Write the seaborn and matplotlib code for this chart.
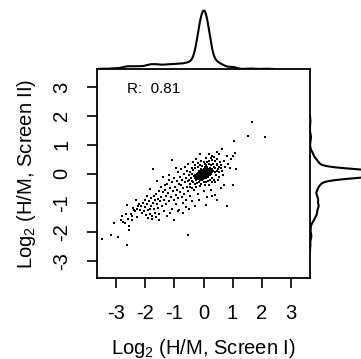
import numpy as np
import pandas as pd
import matplotlib
matplotlib.use('Agg')
import matplotlib.pyplot as plt
import seaborn as sns

# values (log2 H/M ratios, screen I vs screen II)
band_x = [-3.49, -3.19, -2.94, -2.64, -3.07, -2.80, -2.76, -2.57, -2.56, -2.48, -2.67, -2.64, -2.32, -2.43,
          -2.28, -2.15, -1.93, -1.84, -1.61, -1.74, -2.40, -2.35, -2.22, -2.18, -2.10, -2.05, -2.02, -1.98,
          -1.95, -1.90, -1.88, -1.85, -1.82, -1.80, -1.78, -1.75, -1.72, -1.70, -1.68, -1.66, -1.63, -1.60,
          -1.58, -1.55, -1.53, -1.52, -1.50, -2.60, -2.50, -2.45, -2.30, -2.25, -2.12, -2.00, -1.92, -1.86,
          -1.76, -1.64, -1.57, -2.70, -2.85]
band_y = [-2.24, -2.10, -2.19, -2.46, -1.69, -1.46, -1.67, -1.81, -1.93, -1.61, -1.38, -1.07, -0.89, -1.17,
          -1.20, -1.12, -0.77, -0.54, -0.26, 0.16, -1.25, -1.30, -1.05, -1.25, -1.00, -1.30, -1.15, -1.42,
          -1.05, -1.25, -0.95, -1.38, -1.10, -0.85, -1.45, -1.02, -0.78, -1.20, -0.92, -1.35, -0.70, -1.05,
          -0.88, -1.40, -0.60, -1.60, -0.95, -1.55, -1.40, -1.45, -1.48, -1.10, -1.35, -0.92, -1.52, -1.20,
          -1.55, -1.50, -1.18, -1.70, -1.60]

mid_x = [-1.48, -1.45, -1.42, -1.40, -1.38, -1.36, -1.35, -1.32, -1.30, -1.28, -1.25, -1.22, -1.20, -1.18,
         -1.15, -1.12, -1.10, -1.08, -1.07, -1.05, -1.03, -1.01, -1.00, -0.98, -0.96, -0.95, -0.93, -0.90,
         -0.88, -0.87, -0.85, -0.83, -0.82, -0.80, -0.78, -0.76, -0.75, -0.73, -0.72, -0.70, -0.68, -0.67,
         -0.65, -0.63, -0.62, -0.60, -0.58, -0.57, -0.55, -0.53, -0.52, -0.52, -0.50, -0.50, -0.88, -1.26,
         -1.15, -0.70, -0.60, -0.40, -0.30, -0.45, -1.33, -1.19, -0.95]
mid_y = [-0.45, -0.80, -1.10, -0.62, -0.10, -0.90, -1.30, -0.55, -0.75, -1.05, -0.35, -0.65, -0.95, -0.20,
         -0.50, -0.80, -1.20, -0.30, 0.46, -0.60, -0.90, -1.59, -0.15, -0.45, -0.72, -1.05, -0.25, -0.55,
         0.05, -0.85, -0.35, -1.25, -0.10, -0.62, -0.40, 0.15, -0.80, -0.20, -1.00, -0.50, 0.00, -0.70,
         -0.30, 0.25, -0.90, -0.15, -0.45, 0.10, -0.60, -0.25, -2.10, 0.35, -0.05, -1.20, -1.30, -1.45,
         -1.35, -1.35, -1.15, -0.95, -1.10, -0.75, -0.40, -0.05, 0.20]

core_x = [0.00, 0.05, -0.05, 0.10, -0.10, 0.02, -0.02, 0.15, -0.15, 0.08, -0.08, 0.12, -0.12, 0.20, -0.20,
          0.03, -0.03, 0.18, -0.18, 0.25, -0.25, 0.07, -0.07, 0.22, -0.22, 0.14, -0.14, 0.28, -0.28, 0.01,
          -0.01, 0.06, -0.06, 0.11, -0.11, 0.16, -0.16, 0.04, -0.04, 0.09, -0.09, 0.19, -0.19, 0.13, -0.13,
          0.24, -0.24, 0.30, -0.30, 0.00, 0.00, 0.17, -0.17, 0.21, -0.21, 0.26, -0.26, 0.05, -0.05, 0.10,
          -0.10, 0.33, -0.33, 0.02, -0.03, 0.08, -0.07, 0.13, -0.12, 0.04, 0.15, -0.15, 0.23, -0.23, 0.06,
          -0.06, 0.11, -0.09, 0.19, -0.18, 0.27, -0.27, 0.01, 0.03, -0.02, 0.07, -0.04, 0.09, 0.12, -0.08,
          0.03, -0.04, 0.07, -0.09, 0.12, -0.13, 0.01, 0.05, -0.02, 0.17, -0.16, 0.09, -0.07, 0.14, -0.11,
          0.21, -0.19, 0.02, -0.05, 0.10, -0.01, 0.04, -0.06, 0.08, -0.10, 0.13, -0.14, 0.18, -0.20, 0.06,
          -0.03, 0.11, -0.12, 0.16, -0.17, 0.00, 0.02, -0.08, 0.07, 0.23, -0.23, 0.15, -0.01, 0.04, -0.04,
          0.09, -0.09, 0.12, -0.06, 0.01, 0.19, -0.15, 0.06, -0.02, 0.10, -0.11, 0.14, -0.18, 0.03, -0.07,
          0.20, -0.21, 0.05, -0.03, 0.08, -0.05, 0.11, -0.13, 0.16, -0.08, 0.00, 0.02, -0.02, 0.06, -0.06,
          0.09, -0.10, 0.13, -0.12, 0.17, -0.16, 0.04, -0.04, 0.22, -0.25, 0.07, -0.09, 0.12, -0.14, 0.01,
          0.26, -0.22, 0.18, -0.18, 0.03, -0.01, 0.10, -0.07, 0.15, -0.05,
          0.05, -0.03, 0.08, -0.08, 0.11, -0.11, 0.14, -0.15, 0.02, -0.02, 0.18, -0.17, 0.06, -0.06, 0.21,
          -0.20, 0.09, -0.10, 0.24, -0.24, 0.00, 0.01, 0.04, -0.04, 0.07, -0.07, 0.12, -0.12, 0.16, -0.13,
          0.03, -0.01, 0.10, -0.09, 0.19, -0.19, 0.05, -0.05, 0.13, -0.16, 0.27, -0.27, 0.08, -0.03, 0.17,
          -0.14, 0.02, 0.00, 0.06, -0.06, 0.11, -0.11, 0.15, -0.15, 0.20, -0.21, 0.04, -0.04, 0.09, -0.08,
          0.13, -0.12, 0.22, -0.18, 0.01, -0.02, 0.05, -0.05, 0.10, -0.10, 0.14, -0.13, 0.18, -0.20, 0.07,
          -0.07, 0.12, -0.09, 0.16, -0.17, 0.03, -0.03, 0.08, -0.06, 0.11, -0.14, 0.25, -0.26, 0.06, -0.01,
          0.09, -0.11, 0.13, -0.08, 0.20, -0.22, 0.02, 0.00, 0.04, -0.04]
core_y = [0.02, 0.05, -0.02, 0.08, -0.05, -0.08, 0.10, 0.03, -0.10, 0.15, -0.15, -0.04, 0.06, 0.12, -0.06,
          0.18, -0.18, -0.02, 0.02, 0.10, -0.12, -0.12, 0.13, 0.20, -0.18, 0.17, -0.16, 0.05, -0.04, 0.07,
          -0.05, -0.03, 0.04, 0.01, -0.01, 0.09, -0.08, 0.12, -0.11, -0.08, 0.09, 0.06, -0.14, 0.22, -0.20,
          -0.05, 0.00, 0.15, -0.15, -0.14, 0.15, -0.10, 0.10, 0.02, -0.03, 0.18, -0.20, 0.22, -0.22, -0.16,
          0.17, 0.08, -0.07, 0.03, 0.01, 0.04, -0.06, 0.11, -0.09, -0.01, -0.07, 0.05, 0.14, -0.10, 0.10,
          -0.09, 0.13, -0.12, 0.18, -0.19, -0.01, -0.08, -0.04, 0.06, 0.05, 0.00, 0.03, 0.02, 0.06, 0.00,
          0.01, -0.03, 0.06, -0.04, 0.04, -0.08, -0.06, 0.11, 0.08, 0.11, -0.12, -0.02, 0.03, 0.14, -0.13,
          0.07, -0.02, 0.13, -0.12, 0.10, 0.00, -0.04, 0.06, 0.01, 0.02, 0.08, -0.05, 0.16, -0.16, -0.09,
          0.12, -0.07, 0.08, 0.02, -0.09, 0.05, -0.02, -0.08, 0.14, 0.13, -0.14, -0.04, -0.10, 0.07, 0.04,
          0.08, -0.10, 0.12, -0.01, 0.10, 0.04, -0.01, 0.03, -0.07, -0.05, -0.06, 0.10, -0.11, 0.16, -0.15,
          0.18, -0.07, -0.01, 0.02, 0.12, -0.05, 0.02, 0.00, 0.13, -0.18, -0.01, 0.04, -0.03, 0.08, -0.04,
          0.05, -0.11, 0.01, 0.04, 0.08, -0.15, -0.08, 0.09, 0.10, -0.17, -0.05, 0.06, 0.15, -0.10, 0.02,
          0.14, -0.11, -0.01, 0.03, -0.11, 0.14, 0.17, -0.11, 0.06, 0.01,
          0.03, -0.01, -0.03, 0.01, 0.07, -0.03, 0.03, -0.07, 0.09, -0.09, 0.12, -0.13, 0.16, -0.16, 0.01,
          0.00, -0.10, 0.10, 0.17, -0.09, 0.08, -0.08, 0.02, -0.05, 0.09, -0.07, -0.01, -0.02, 0.16, -0.14,
          0.05, 0.03, 0.13, -0.13, 0.09, -0.05, -0.06, 0.07, 0.18, -0.19, 0.09, -0.13, 0.19, -0.17, -0.03,
          0.06, 0.00, -0.03, 0.05, 0.00, 0.11, -0.09, 0.00, -0.03, 0.15, -0.18, 0.12, -0.13, 0.00, 0.05,
          0.06, -0.12, 0.05, -0.08, 0.06, 0.01, 0.08, -0.08, 0.03, -0.07, 0.12, -0.04, 0.07, -0.12, 0.02,
          -0.02, 0.09, -0.05, 0.05, -0.04, -0.05, 0.06, 0.07, -0.10, 0.04, -0.12, 0.12, -0.10, 0.11, -0.06,
          0.14, 0.01, -0.06, -0.16, 0.11, -0.15, 0.07, 0.11, -0.03, -0.02]

ring_x = [0.35, 0.40, 0.45, 0.38, 0.42, 0.50, 0.48, 0.55, 0.32, 0.25, 0.18, 0.10, 0.05, -0.05, -0.12, -0.20,
          -0.28, -0.35, -0.38, -0.42, -0.40, -0.35, -0.30, -0.22, -0.15, -0.08, 0.00, 0.08, 0.15, 0.22, 0.30,
          0.35, 0.28, 0.45, 0.52, 0.60, 0.58, 0.40, 0.30, 0.20, 0.12, 0.00, -0.10, -0.18, -0.30, -0.45, -0.48,
          -0.45, -0.38, -0.25, -0.12, 0.05, 0.18, 0.40, 0.25, 0.35, 0.45, 0.62, 0.65, 0.55, -0.35, -0.25, 0.10,
          -0.40, -0.50, -0.32, 0.50, 0.70, 0.75, 0.68]
ring_y = [0.25, 0.20, 0.30, 0.05, -0.05, 0.15, 0.35, 0.25, 0.35, 0.32, 0.35, 0.30, 0.35, 0.28, 0.30, 0.22,
          0.20, 0.12, -0.02, -0.15, -0.25, -0.30, -0.35, -0.32, -0.30, -0.35, -0.30, -0.28, -0.25, -0.20, -0.15,
          -0.22, -0.30, 0.10, 0.05, 0.20, 0.40, 0.45, 0.48, 0.45, 0.42, 0.40, 0.45, 0.38, 0.30, 0.05, -0.35,
          -0.45, -0.48, -0.45, -0.42, -0.40, -0.38, -0.30, 0.55, 0.58, 0.52, 0.30, 0.10, -0.10, 0.40, 0.50, 0.55,
          0.20, -0.20, -0.55, -0.20, 0.45, 0.25, -0.05]

outer_x = [1.67, 1.52, 2.12, 1.05, 0.64, 1.07, 1.01, 1.13, 1.02, 0.69, 0.81, 0.41, 0.46, 0.08, 0.12, 0.80,
           0.85, 0.90, 0.55, 0.45, 0.20, 0.95, -0.20, 0.00, 0.25, -0.15, 0.30, 0.60, -0.11, 0.29]
outer_y = [1.80, 1.29, 1.28, 1.14, 0.86, 0.72, 0.61, 0.15, -0.40, -0.38, -1.12, -0.74, -0.89, -1.08, -0.81,
           0.60, 0.35, 0.20, 0.70, 0.75, 0.70, 0.50, -0.70, -0.60, -0.55, -0.90, -0.75, -0.50, 0.69, 0.61]

df = pd.DataFrame({
    'screen1': band_x + mid_x + core_x + ring_x + outer_x,
    'screen2': band_y + mid_y + core_y + ring_y + outer_y,
})

plt.rcParams['font.family'] = ['Liberation Sans', 'DejaVu Sans']
plt.rcParams['axes.unicode_minus'] = False

W, H = 361, 359
fig = plt.figure(figsize=(W / 100, H / 100), dpi=100)

# main panel box (pixel positions from the reference)
left, right, top, bottom = 97, 310, 69, 278
ax = fig.add_axes([left / W, 1 - bottom / H, (right - left) / W, (bottom - top) / H])
ax_top = fig.add_axes([left / W, 1 - top / H, (right - left) / W, top / H])
ax_right = fig.add_axes([right / W, 1 - bottom / H, top / W, (bottom - top) / H])

sns.scatterplot(data=df, x='screen1', y='screen2', ax=ax, color='black', s=2.5,
                linewidth=0, marker='s')
ax.set_xlim(-3.67, 3.67)
ax.set_ylim(-3.6, 3.62)
ax.set_xticks(range(-3, 4))
ax.set_yticks(range(-3, 4))
for sp in ax.spines.values():
    sp.set_linewidth(1.3)
ax.tick_params(direction='out', length=7, width=1.2, pad=11.5, labelsize=14.5)
ax.tick_params(axis='y', labelrotation=90)
for lab in ax.get_yticklabels():
    lab.set_va('center')
ax.set_xlabel('Log$_\\mathregular{2}$ (H/M, Screen I)', fontsize=14.5, labelpad=10)
ax.set_ylabel('Log$_\\mathregular{2}$ (H/M, Screen II)', fontsize=14.5, labelpad=10)
ax.text(-2.64, 2.94, 'R:  0.81', ha='left', va='center', fontsize=11)

# marginal densities
sns.kdeplot(data=df, x='screen1', ax=ax_top, color='black', linewidth=1.5, bw_adjust=0.45)
sns.kdeplot(data=df, y='screen2', ax=ax_right, color='black', linewidth=1.5, bw_adjust=0.45)
peak = ax_top.lines[0].get_ydata().max()
ax_top.set_xlim(ax.get_xlim())
ax_top.set_ylim(0, peak * 69 / 58.5)
ax_right.set_ylim(ax.get_ylim())
ax_right.set_xlim(0, peak * 69 / 58.5)
for a in (ax_top, ax_right):
    a.axis('off')

fig.savefig('out.png', dpi=100)
